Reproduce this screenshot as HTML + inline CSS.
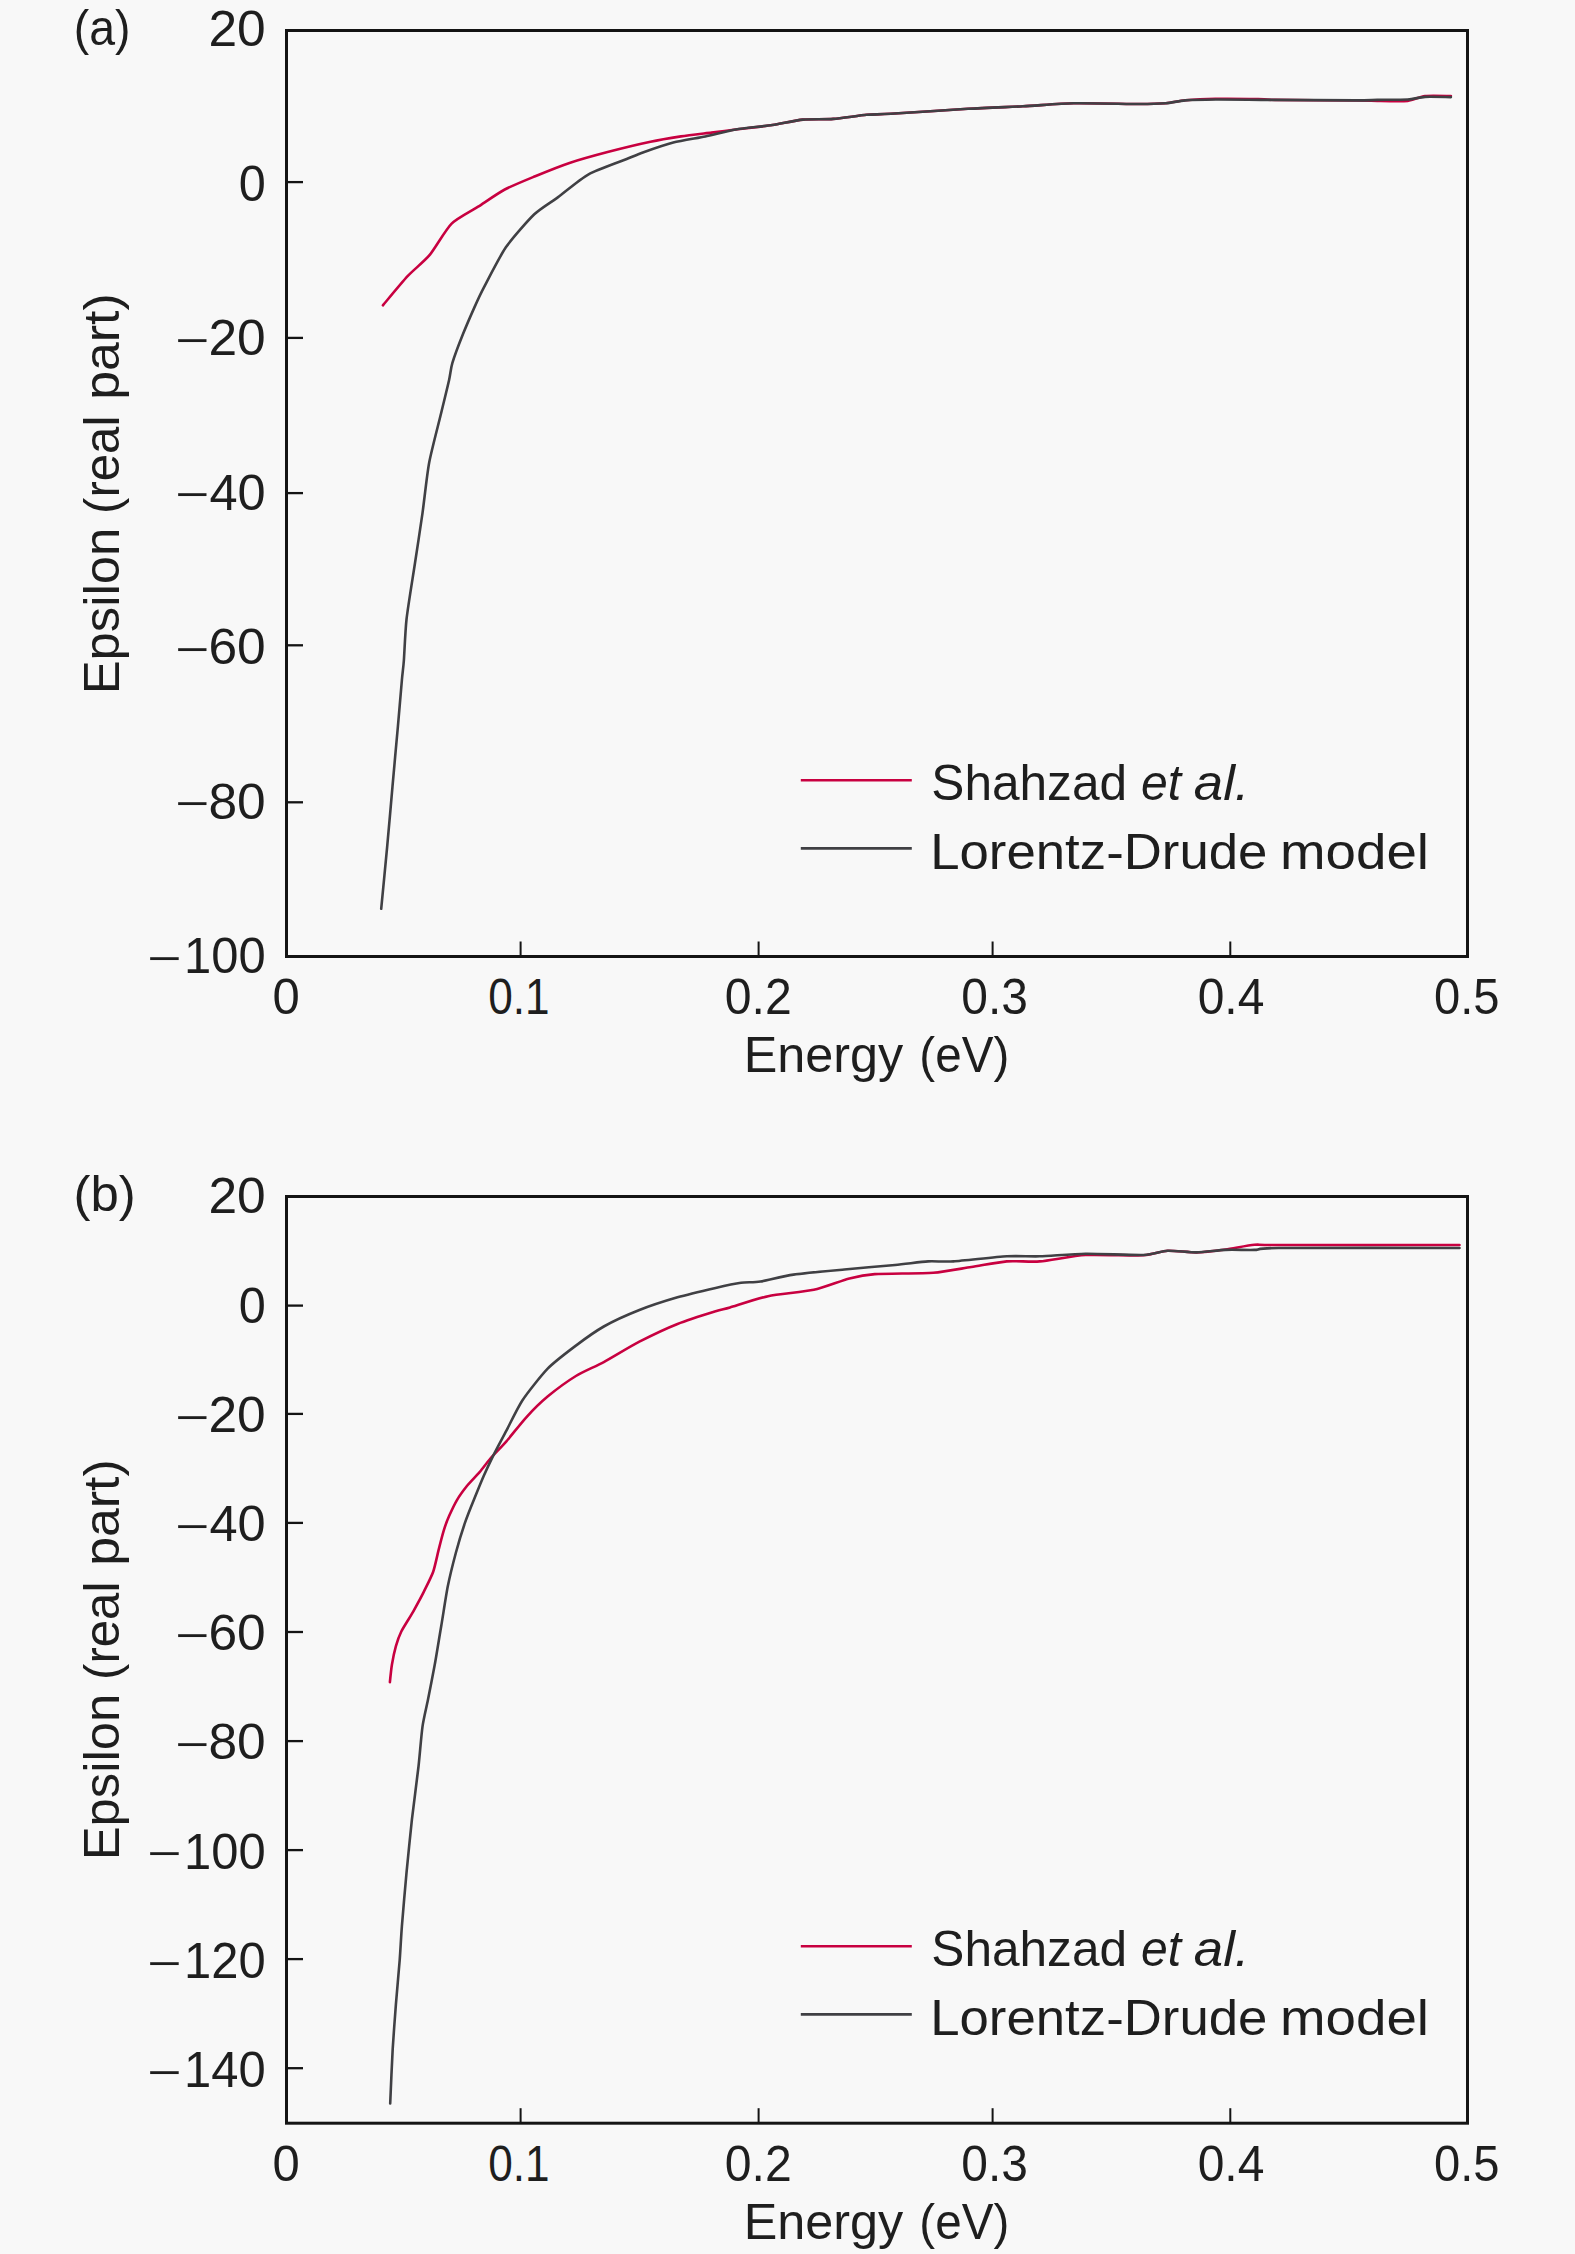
<!DOCTYPE html>
<html lang="en"><head><meta charset="utf-8"><title>Epsilon (real part) vs Energy</title>
<style>
html,body{margin:0;padding:0;background:#f8f8f8}
body{width:1575px;height:2254px;overflow:hidden}
svg{display:block}
text{font-family:"Liberation Sans",sans-serif;font-size:50px;fill:#1e1e1e;white-space:pre}
.i{font-style:italic}
.ax{fill:none;stroke:#141414;stroke-width:3}
.tk{stroke:#141414;stroke-width:2.3;stroke-linecap:butt}
.r{fill:none;stroke:#c80040;stroke-width:2.6;stroke-linejoin:round;stroke-linecap:round}
.g{fill:none;stroke:#404044;stroke-width:2.6;stroke-linejoin:round;stroke-linecap:round}
</style></head><body>
<svg width="1575" height="2254" viewBox="0 0 1575 2254">
<rect x="0" y="0" width="1575" height="2254" fill="#f8f8f8"/>
<g>
<path class="r" d="M382.9 305.3C385.8 301.9 402.2 282.0 407.6 276.2C413.0 270.4 424.4 261.3 429.5 255.2C434.6 249.1 445.7 229.5 451.4 223.8C457.1 218.1 471.9 210.7 478.1 206.7C484.3 202.7 498.1 193.1 504.8 189.5C511.5 185.9 527.7 179.3 535.2 176.2C542.7 173.1 561.1 165.7 569.5 162.9C577.9 160.1 598.1 154.5 607.6 152.0C617.1 149.5 641.9 143.5 650.5 141.7C659.1 139.9 673.9 137.5 681.0 136.4C688.1 135.3 705.0 133.4 711.4 132.6C717.8 131.8 728.7 130.4 735.8 129.5C742.9 128.6 764.6 126.2 772.4 125.0C780.2 123.8 795.8 120.3 802.9 119.6C810.0 118.9 825.9 119.5 833.3 118.9C840.7 118.3 860.0 115.4 866.7 114.8C873.4 114.2 879.0 114.5 890.8 113.8C902.6 113.1 952.6 109.7 968.0 108.8C983.4 107.9 1010.6 106.9 1022.9 106.3C1035.2 105.7 1059.9 103.6 1073.6 103.3C1087.3 103.0 1129.2 104.0 1140.0 104.0C1150.8 104.0 1160.6 103.6 1165.9 103.2C1171.2 102.8 1179.5 100.7 1185.3 100.2C1191.1 99.7 1207.1 98.9 1215.6 98.8C1224.1 98.7 1251.1 98.9 1258.0 99.0C1264.9 99.1 1263.6 99.7 1275.0 99.9C1286.4 100.1 1343.9 100.3 1355.9 100.4C1367.9 100.5 1371.5 100.8 1377.5 100.9C1383.5 101.0 1402.2 101.5 1407.7 100.9C1413.2 100.3 1420.0 96.6 1425.0 96.0C1430.0 95.4 1447.9 96.0 1450.9 96.0"/>
<path class="g" d="M381.2 908.8C381.9 901.5 385.9 860.6 387.2 846.3C388.5 832.0 391.3 800.4 392.5 786.4C393.7 772.4 396.8 738.9 397.9 726.5C399.0 714.1 401.2 687.8 401.9 680.0C402.6 672.2 403.4 667.1 403.9 660.0C404.4 652.9 405.3 630.4 406.5 619.5C407.7 608.6 412.6 578.7 414.5 566.3C416.4 553.9 420.8 525.2 422.5 513.1C424.2 501.0 427.0 474.1 429.2 462.5C431.4 450.9 438.8 422.9 441.1 413.3C443.4 403.7 447.8 385.9 449.1 380.0C450.4 374.1 450.8 368.2 452.4 362.9C454.0 357.6 460.3 340.8 462.9 334.3C465.5 327.8 471.9 313.0 474.3 307.6C476.7 302.2 480.1 294.6 483.8 287.6C487.5 280.6 499.8 256.2 505.7 247.6C511.6 239.0 528.2 220.2 534.3 214.3C540.4 208.4 551.8 201.8 558.1 197.1C564.4 192.4 580.6 178.7 588.6 174.3C596.6 169.9 620.4 161.6 626.7 159.0C633.0 156.4 637.5 154.3 642.9 152.4C648.3 150.5 666.0 144.4 673.3 142.5C680.6 140.6 698.0 137.9 705.3 136.4C712.6 134.9 728.0 130.8 735.8 129.5C743.6 128.2 764.6 126.2 772.4 125.0C780.2 123.8 795.8 120.3 802.9 119.6C810.0 118.9 825.9 119.5 833.3 118.9C840.7 118.3 860.0 115.4 866.7 114.8C873.4 114.2 879.0 114.5 890.8 113.8C902.6 113.1 952.6 109.7 968.0 108.8C983.4 107.9 1010.6 106.9 1022.9 106.3C1035.2 105.7 1059.9 103.6 1073.6 103.3C1087.3 103.0 1129.2 104.0 1140.0 104.0C1150.8 104.0 1160.6 103.6 1165.9 103.2C1171.2 102.8 1179.5 100.8 1185.3 100.4C1191.1 100.0 1205.8 99.6 1215.6 99.5C1225.4 99.4 1253.1 99.8 1269.5 99.9C1285.9 100.0 1343.3 100.4 1355.9 100.4C1368.5 100.4 1371.5 100.0 1377.5 99.9C1383.5 99.8 1402.2 99.8 1407.7 99.5C1413.2 99.2 1420.0 97.2 1425.0 96.9C1430.0 96.6 1447.9 97.1 1450.9 97.1"/>
<rect class="ax" x="286.5" y="30.5" width="1181.0" height="926.0"/>
<line class="tk" style="stroke-width:2" x1="520.6" y1="956.5" x2="520.6" y2="941.5"/>
<line class="tk" style="stroke-width:2" x1="758.6" y1="956.5" x2="758.6" y2="941.5"/>
<line class="tk" style="stroke-width:2" x1="992.6" y1="956.5" x2="992.6" y2="941.5"/>
<line class="tk" style="stroke-width:2" x1="1230.3" y1="956.5" x2="1230.3" y2="941.5"/>
<line class="tk" x1="286.5" y1="182.1" x2="303.0" y2="182.1"/>
<line class="tk" x1="286.5" y1="337.9" x2="303.0" y2="337.9"/>
<line class="tk" x1="286.5" y1="493.1" x2="303.0" y2="493.1"/>
<line class="tk" x1="286.5" y1="645.3" x2="303.0" y2="645.3"/>
<line class="tk" x1="286.5" y1="802.3" x2="303.0" y2="802.3"/>
<line class="r" style="stroke-linecap:butt" x1="800.8" y1="780.2" x2="911.8" y2="780.2"/>
<line class="g" style="stroke-linecap:butt" x1="800.8" y1="848.4" x2="911.8" y2="848.4"/>
</g>
<g>
<path class="r" d="M389.9 1682.1C390.1 1680.1 391.2 1669.0 391.9 1664.8C392.6 1660.6 394.8 1650.1 395.9 1646.2C397.0 1642.3 399.3 1635.5 401.3 1631.5C403.3 1627.5 410.6 1616.3 413.2 1611.6C415.8 1606.9 421.6 1596.3 423.9 1591.6C426.2 1586.9 431.5 1576.5 433.2 1571.7C434.9 1566.9 437.3 1555.2 438.5 1550.4C439.7 1545.6 442.6 1534.4 443.8 1530.4C445.0 1526.4 447.6 1519.4 449.2 1515.8C450.8 1512.2 455.1 1503.2 457.1 1499.8C459.1 1496.4 463.9 1489.8 466.5 1486.5C469.1 1483.2 477.0 1475.2 479.8 1471.9C482.6 1468.6 487.3 1462.1 490.4 1458.5C493.5 1454.9 502.2 1446.1 506.4 1441.3C510.6 1436.5 521.5 1422.5 526.3 1417.3C531.1 1412.0 542.1 1401.1 547.9 1396.3C553.7 1391.5 569.4 1380.0 575.9 1376.0C582.4 1372.0 596.4 1366.1 603.8 1362.1C611.2 1358.1 630.8 1346.1 639.4 1341.7C648.0 1337.3 668.6 1327.5 677.5 1324.0C686.4 1320.5 709.5 1313.2 715.6 1311.3C721.7 1309.4 723.9 1309.3 730.0 1307.5C736.1 1305.7 758.3 1298.3 768.1 1296.2C777.9 1294.1 804.3 1291.9 813.8 1289.8C823.3 1287.7 842.3 1280.2 849.4 1278.4C856.5 1276.6 865.0 1274.8 874.8 1274.1C884.6 1273.4 921.9 1273.6 933.2 1272.8C944.5 1272.0 962.7 1268.3 971.3 1267.0C979.9 1265.7 998.8 1262.1 1006.8 1261.4C1014.8 1260.7 1030.6 1262.1 1039.8 1261.4C1049.0 1260.7 1073.5 1255.7 1085.6 1255.0C1097.7 1254.3 1133.8 1255.8 1143.4 1255.3C1153.0 1254.8 1161.4 1251.0 1167.6 1250.7C1173.8 1250.4 1189.7 1252.5 1196.5 1252.4C1203.3 1252.3 1218.7 1250.4 1225.5 1249.5C1232.3 1248.6 1248.2 1245.3 1254.4 1244.8C1260.6 1244.3 1254.6 1245.0 1278.5 1245.0C1302.4 1245.0 1438.4 1245.0 1459.5 1245.0"/>
<path class="g" d="M390.2 2103.5C390.5 2097.1 392.0 2060.5 392.7 2048.9C393.4 2037.3 395.1 2014.8 395.9 2004.4C396.7 1994.0 399.0 1969.1 399.7 1960.0C400.4 1950.9 401.1 1936.4 401.9 1926.2C402.7 1916.0 405.3 1885.3 406.5 1872.9C407.7 1860.5 410.5 1832.1 411.9 1819.7C413.3 1807.3 417.3 1777.4 418.5 1766.5C419.7 1755.6 421.4 1734.4 422.5 1726.6C423.6 1718.8 426.5 1707.1 427.9 1700.0C429.3 1692.9 432.9 1674.7 434.5 1666.1C436.1 1657.5 439.6 1635.5 441.2 1626.2C442.8 1616.9 446.1 1594.8 447.8 1586.3C449.5 1577.8 453.8 1560.5 455.8 1553.0C457.8 1545.5 462.9 1528.8 465.1 1522.4C467.3 1516.0 472.2 1503.9 474.4 1498.5C476.6 1493.1 481.6 1480.8 483.8 1475.8C486.0 1470.8 490.5 1461.2 493.1 1455.9C495.7 1450.6 503.0 1437.1 506.4 1430.6C509.8 1424.1 517.7 1407.5 522.5 1400.2C527.3 1392.9 541.7 1374.8 547.9 1368.4C554.1 1362.0 569.4 1350.5 575.9 1345.6C582.4 1340.7 596.4 1330.7 603.8 1326.5C611.2 1322.3 630.8 1313.4 639.4 1310.0C648.0 1306.6 668.6 1299.9 677.5 1297.3C686.4 1294.7 708.2 1289.6 715.6 1287.9C723.0 1286.2 735.8 1283.5 741.0 1282.8C746.2 1282.1 754.4 1282.5 760.5 1281.5C766.6 1280.5 783.7 1276.0 793.5 1274.6C803.3 1273.2 832.4 1270.6 844.3 1269.5C856.2 1268.4 885.3 1265.9 895.1 1265.0C904.9 1264.1 921.3 1261.8 928.1 1261.4C934.9 1261.0 944.3 1262.0 953.5 1261.4C962.7 1260.8 996.7 1256.9 1006.8 1256.3C1016.9 1255.7 1030.6 1256.6 1039.8 1256.3C1049.0 1256.0 1073.5 1254.0 1085.6 1253.8C1097.7 1253.6 1133.8 1255.4 1143.4 1255.0C1153.0 1254.6 1161.4 1251.0 1167.6 1250.7C1173.8 1250.4 1189.7 1252.5 1196.5 1252.4C1203.3 1252.3 1218.7 1250.2 1225.5 1249.9C1232.3 1249.6 1248.2 1250.1 1254.4 1249.9C1260.6 1249.7 1254.6 1248.2 1278.5 1248.0C1302.4 1247.8 1438.4 1248.0 1459.5 1248.0"/>
<rect class="ax" x="286.5" y="1196.5" width="1181.0" height="926.7"/>
<line class="tk" style="stroke-width:2" x1="520.6" y1="2123.2" x2="520.6" y2="2108.2"/>
<line class="tk" style="stroke-width:2" x1="758.6" y1="2123.2" x2="758.6" y2="2108.2"/>
<line class="tk" style="stroke-width:2" x1="992.6" y1="2123.2" x2="992.6" y2="2108.2"/>
<line class="tk" style="stroke-width:2" x1="1230.3" y1="2123.2" x2="1230.3" y2="2108.2"/>
<line class="tk" x1="286.5" y1="1305.6" x2="303.0" y2="1305.6"/>
<line class="tk" x1="286.5" y1="1413.9" x2="303.0" y2="1413.9"/>
<line class="tk" x1="286.5" y1="1522.9" x2="303.0" y2="1522.9"/>
<line class="tk" x1="286.5" y1="1632.0" x2="303.0" y2="1632.0"/>
<line class="tk" x1="286.5" y1="1741.1" x2="303.0" y2="1741.1"/>
<line class="tk" x1="286.5" y1="1850.1" x2="303.0" y2="1850.1"/>
<line class="tk" x1="286.5" y1="1959.1" x2="303.0" y2="1959.1"/>
<line class="tk" x1="286.5" y1="2068.2" x2="303.0" y2="2068.2"/>
<line class="r" style="stroke-linecap:butt" x1="800.8" y1="1946.2" x2="911.8" y2="1946.2"/>
<line class="g" style="stroke-linecap:butt" x1="800.8" y1="2014.4" x2="911.8" y2="2014.4"/>
</g>
<text transform="translate(73.71 44.90) scale(0.9286 1)">(a)</text>
<text transform="translate(73.44 1210.90) scale(1.0188 1)">(b)</text>
<text transform="translate(208.44 46.00) scale(1.0307 1)">20</text>
<text transform="translate(238.63 200.50) scale(0.9720 1)">0</text>
<g><text transform="translate(175.36 353.80) scale(1.1680 0.8)">−</text><text transform="translate(208.44 355.00) scale(1.0307 1)">20</text></g>
<g><text transform="translate(175.36 508.30) scale(1.1680 0.8)">−</text><text transform="translate(209.49 509.50) scale(1.0112 1)">40</text></g>
<g><text transform="translate(175.36 662.80) scale(1.1680 0.8)">−</text><text transform="translate(208.44 664.00) scale(1.0307 1)">60</text></g>
<g><text transform="translate(175.36 817.30) scale(1.1680 0.8)">−</text><text transform="translate(208.44 818.50) scale(1.0307 1)">80</text></g>
<g><text transform="translate(147.25 971.80) scale(1.1760 0.8)">−</text><text transform="translate(184.07 973.00) scale(0.9782 1)">100</text></g>
<text transform="translate(208.44 1213.00) scale(1.0307 1)">20</text>
<text transform="translate(238.63 1322.60) scale(0.9720 1)">0</text>
<g><text transform="translate(175.36 1430.60) scale(1.1680 0.8)">−</text><text transform="translate(208.44 1431.80) scale(1.0307 1)">20</text></g>
<g><text transform="translate(175.36 1539.80) scale(1.1680 0.8)">−</text><text transform="translate(209.49 1541.00) scale(1.0112 1)">40</text></g>
<g><text transform="translate(175.36 1649.00) scale(1.1680 0.8)">−</text><text transform="translate(208.44 1650.20) scale(1.0307 1)">60</text></g>
<g><text transform="translate(175.36 1758.20) scale(1.1680 0.8)">−</text><text transform="translate(208.44 1759.40) scale(1.0307 1)">80</text></g>
<g><text transform="translate(147.25 1867.40) scale(1.1760 0.8)">−</text><text transform="translate(184.07 1868.60) scale(0.9782 1)">100</text></g>
<g><text transform="translate(147.25 1976.60) scale(1.1760 0.8)">−</text><text transform="translate(184.07 1977.80) scale(0.9782 1)">120</text></g>
<g><text transform="translate(147.25 2085.80) scale(1.1760 0.8)">−</text><text transform="translate(184.07 2087.00) scale(0.9782 1)">140</text></g>
<text transform="translate(272.52 1014.20) scale(0.9800 1)">0</text>
<text transform="translate(488.22 1014.20) scale(0.8831 1)">0.1</text>
<text transform="translate(724.74 1014.20) scale(0.9640 1)">0.2</text>
<text transform="translate(961.34 1014.20) scale(0.9580 1)">0.3</text>
<text transform="translate(1197.64 1014.20) scale(0.9601 1)">0.4</text>
<text transform="translate(1434.06 1014.20) scale(0.9430 1)">0.5</text>
<text transform="translate(743.77 1072.20) scale(1.0070 1)">Energy</text>
<text transform="translate(919.35 1072.20) scale(0.9515 1)">(eV)</text>
<text transform="translate(272.52 2180.80) scale(0.9800 1)">0</text>
<text transform="translate(488.22 2180.80) scale(0.8831 1)">0.1</text>
<text transform="translate(724.74 2180.80) scale(0.9640 1)">0.2</text>
<text transform="translate(961.34 2180.80) scale(0.9580 1)">0.3</text>
<text transform="translate(1197.64 2180.80) scale(0.9601 1)">0.4</text>
<text transform="translate(1434.06 2180.80) scale(0.9430 1)">0.5</text>
<text transform="translate(743.77 2238.80) scale(1.0070 1)">Energy</text>
<text transform="translate(919.35 2238.80) scale(0.9515 1)">(eV)</text>
<text transform="translate(931.32 800.40) scale(0.9918 1)">Shahzad</text>
<text class="i" transform="translate(1141.04 800.40) scale(0.9624 1)">et</text>
<text class="i" transform="translate(1193.85 800.40) scale(1.0541 1)">al.</text>
<text transform="translate(930.18 868.50) scale(1.0555 1)">Lorentz-Drude</text>
<text transform="translate(1280.02 868.50) scale(1.0940 1)">model</text>
<text transform="translate(931.32 1966.40) scale(0.9918 1)">Shahzad</text>
<text class="i" transform="translate(1141.04 1966.40) scale(0.9624 1)">et</text>
<text class="i" transform="translate(1193.85 1966.40) scale(1.0541 1)">al.</text>
<text transform="translate(930.18 2034.50) scale(1.0555 1)">Lorentz-Drude</text>
<text transform="translate(1280.02 2034.50) scale(1.0940 1)">model</text>
<text transform="translate(118.70 694.26) rotate(-90) scale(1.0160 1)">Epsilon</text>
<text transform="translate(118.70 513.95) rotate(-90) scale(0.9828 1)">(real</text>
<text transform="translate(118.70 399.81) rotate(-90) scale(1.0365 1)">part)</text>
<text transform="translate(118.70 1860.26) rotate(-90) scale(1.0160 1)">Epsilon</text>
<text transform="translate(118.70 1679.95) rotate(-90) scale(0.9828 1)">(real</text>
<text transform="translate(118.70 1565.81) rotate(-90) scale(1.0365 1)">part)</text>
</svg>
</body></html>
